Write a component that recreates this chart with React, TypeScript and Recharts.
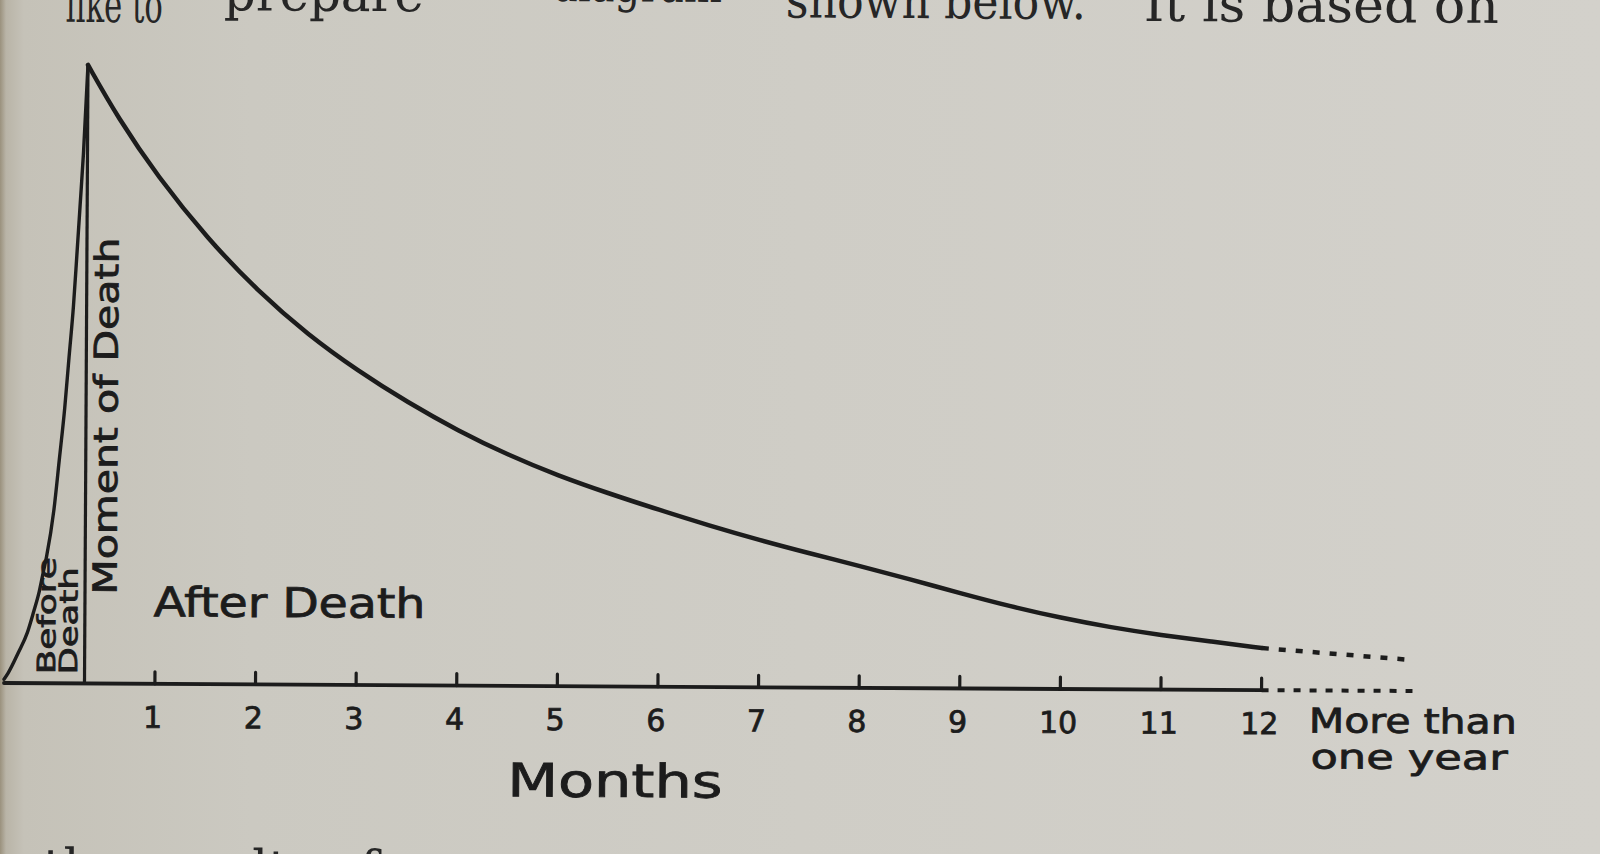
import React from 'react';
import { ComposedChart, Line, XAxis, YAxis, ReferenceLine } from 'recharts';

// ---- data (months after death, relative intensity; peak = 100) ----
const monthTicks = [1, 2, 3, 4, 5, 6, 7, 8, 9, 10, 11, 12];
const monthLabels = ['1', '2', '3', '4', '5', '6', '7', '8', '9', '10', '11', '12'];

const axisStart = -0.5;
const axisEnd = 13.5;
const deathMonth = 0.3;
const peakValue = 100;

const beforeMonths = [-0.5, -0.46, -0.36, -0.27, -0.21, -0.155, -0.114, -0.084, -0.014, 0.038, 0.088, 0.128, 0.169, 0.2, 0.23, 0.26, 0.3];
const beforeValues = [0.6, 1.6, 4.9, 8.2, 11.5, 14.8, 18.1, 20.5, 28, 36.3, 44.5, 52.7, 61, 69.2, 77.4, 85.7, 100];

const afterMonths = [0.3, 0.6, 1.0, 1.5, 2.0, 2.5, 3.0, 3.5, 4.0, 4.5, 5.0, 5.5, 6.0, 6.5, 7.0, 7.5, 8.0, 8.5, 9.0, 9.5, 10.0, 10.5, 11.0, 11.5, 12.0];
const afterValues = [100, 91.5, 82, 72, 63.6, 56.6, 50.8, 45.7, 41.2, 37.3, 34, 31.2, 28.6, 26.1, 23.8, 21.7, 19.7, 17.6, 15.4, 13.3, 11.5, 10.0, 8.8, 7.8, 6.8];

const beyondMonths = [12.0, 13.5];
const beyondValues = [6.8, 5.0];

const toRows = (ms: number[], vs: number[]) => ms.map((m, i) => ({ m, v: vs[i] }));
const beforeData = toRows(beforeMonths, beforeValues);
const afterData = toRows(afterMonths, afterValues);
const beyondData = toRows(beyondMonths, beyondValues);

const INK = '#1c1c1c';
const HAND = '"DejaVu Sans", "Open Sans", sans-serif';
const SERIF = '"DejaVu Serif", "Liberation Serif", serif';

const MonthTick = (props: any) => {
  const { x, y, payload } = props;
  const idx = monthTicks.indexOf(payload.value);
  const label = idx >= 0 ? monthLabels[idx] : String(payload.value);
  return (
    <g>
      <line x1={x} x2={x} y1={y - 12} y2={y} stroke={INK} strokeWidth={3.2} strokeLinecap="round" />
      <text x={x - 2} y={y + 44} textAnchor="middle" fontFamily={HAND} fontSize={30} fill={INK} stroke={INK} strokeWidth={0.8}>
        {label}
      </text>
    </g>
  );
};

export default function App() {
  return (
    <div
      style={{
        position: 'absolute',
        left: 0,
        top: 0,
        width: 1600,
        height: 854,
        overflow: 'hidden',
        background:
          'linear-gradient(90deg, #9a917d 0px, #b9b4a7 6px, #c5c2b8 24px, #cbc9c1 250px, #cfcdc6 800px, #d3d1cb 1600px)',
      }}
    >
      <div
        style={{
          position: 'absolute',
          left: 0,
          top: 0,
          width: 1600,
          height: 854,
          transform: 'rotate(0.325deg)',
          transformOrigin: '4px 683px',
        }}
      >
        <ComposedChart width={1600} height={854} margin={{ top: 64.5, right: 187.5, bottom: 0, left: 4 }}>
          <XAxis
            type="number"
            dataKey="m"
            domain={[axisStart, axisEnd]}
            ticks={monthTicks}
            interval={0}
            axisLine={false}
            tickLine={false}
            tickSize={0}
            tickMargin={0}
            height={171}
            tick={<MonthTick />}
          />
          <YAxis hide width={0} domain={[0, peakValue]} />
          <ReferenceLine
            segment={[{ x: axisStart, y: 0 }, { x: 12, y: 0 }]}
            stroke={INK}
            strokeWidth={3.8}
            strokeLinecap="round"
            ifOverflow="visible"
          />
          <ReferenceLine
            segment={[{ x: 12, y: 0 }, { x: axisEnd, y: 0 }]}
            stroke={INK}
            strokeWidth={4}
            strokeDasharray="7 9"
            ifOverflow="visible"
          />
          <ReferenceLine
            segment={[{ x: deathMonth, y: 0 }, { x: deathMonth, y: peakValue }]}
            stroke={INK}
            strokeWidth={3.2}
            ifOverflow="visible"
          />
          <Line
            data={beforeData}
            dataKey="v"
            type="monotone"
            stroke={INK}
            strokeWidth={3.4}
            dot={false}
            activeDot={false}
            isAnimationActive={false}
            strokeLinecap="round"
            strokeLinejoin="round"
          />
          <Line
            data={afterData}
            dataKey="v"
            type="basis"
            stroke={INK}
            strokeWidth={4.5}
            dot={false}
            activeDot={false}
            isAnimationActive={false}
            strokeLinecap="round"
            strokeLinejoin="round"
          />
          <Line
            data={beyondData}
            dataKey="v"
            type="linear"
            stroke={INK}
            strokeWidth={4.5}
            strokeDasharray="7 10"
            dot={false}
            activeDot={false}
            isAnimationActive={false}
          />
        </ComposedChart>

        <svg
          width={1600}
          height={854}
          style={{ position: 'absolute', left: 0, top: 0, pointerEvents: 'none', overflow: 'visible' }}
        >
          {/* book text above and below (cut off by the photo) */}
          <g fontFamily={SERIF} fontSize={50} fill="#262626">
            <text x={62} y={21.5} textLength={97} lengthAdjust="spacingAndGlyphs">like to</text>
            <text x={220} y={9} textLength={200} lengthAdjust="spacingAndGlyphs">prepare</text>
            <text x={548} y={-2} textLength={170} lengthAdjust="spacingAndGlyphs">diagram</text>
            <text x={782} y={13} textLength={300} lengthAdjust="spacingAndGlyphs">shown below.</text>
            <text x={1140} y={14.5} textLength={355} lengthAdjust="spacingAndGlyphs">It is based on</text>
            <text x={44} y={884}>the results of</text>
          </g>

          {/* hand-lettered labels */}
          <g fontFamily={HAND} fill={INK} stroke={INK} strokeWidth={0.8}>
            <text transform="translate(55,674) rotate(-90)" fontSize={25} textLength={117} lengthAdjust="spacingAndGlyphs">
              Before
            </text>
            <text transform="translate(77,674) rotate(-90)" fontSize={25} textLength={107} lengthAdjust="spacingAndGlyphs">
              Death
            </text>
            <text transform="translate(116,594) rotate(-90)" fontSize={33} textLength={357} lengthAdjust="spacingAndGlyphs">
              Moment of Death
            </text>
            <text x={153} y={615.5} fontSize={41} textLength={272} lengthAdjust="spacingAndGlyphs">
              After Death
            </text>
            <text x={508} y={793.5} fontSize={46} textLength={215} lengthAdjust="spacingAndGlyphs">
              Months
            </text>
            <text x={1309} y={725} fontSize={34} textLength={208} lengthAdjust="spacingAndGlyphs">
              More than
            </text>
            <text x={1311} y={761} fontSize={34} textLength={197} lengthAdjust="spacingAndGlyphs">
              one year
            </text>
          </g>
        </svg>
      </div>
    </div>
  );
}
